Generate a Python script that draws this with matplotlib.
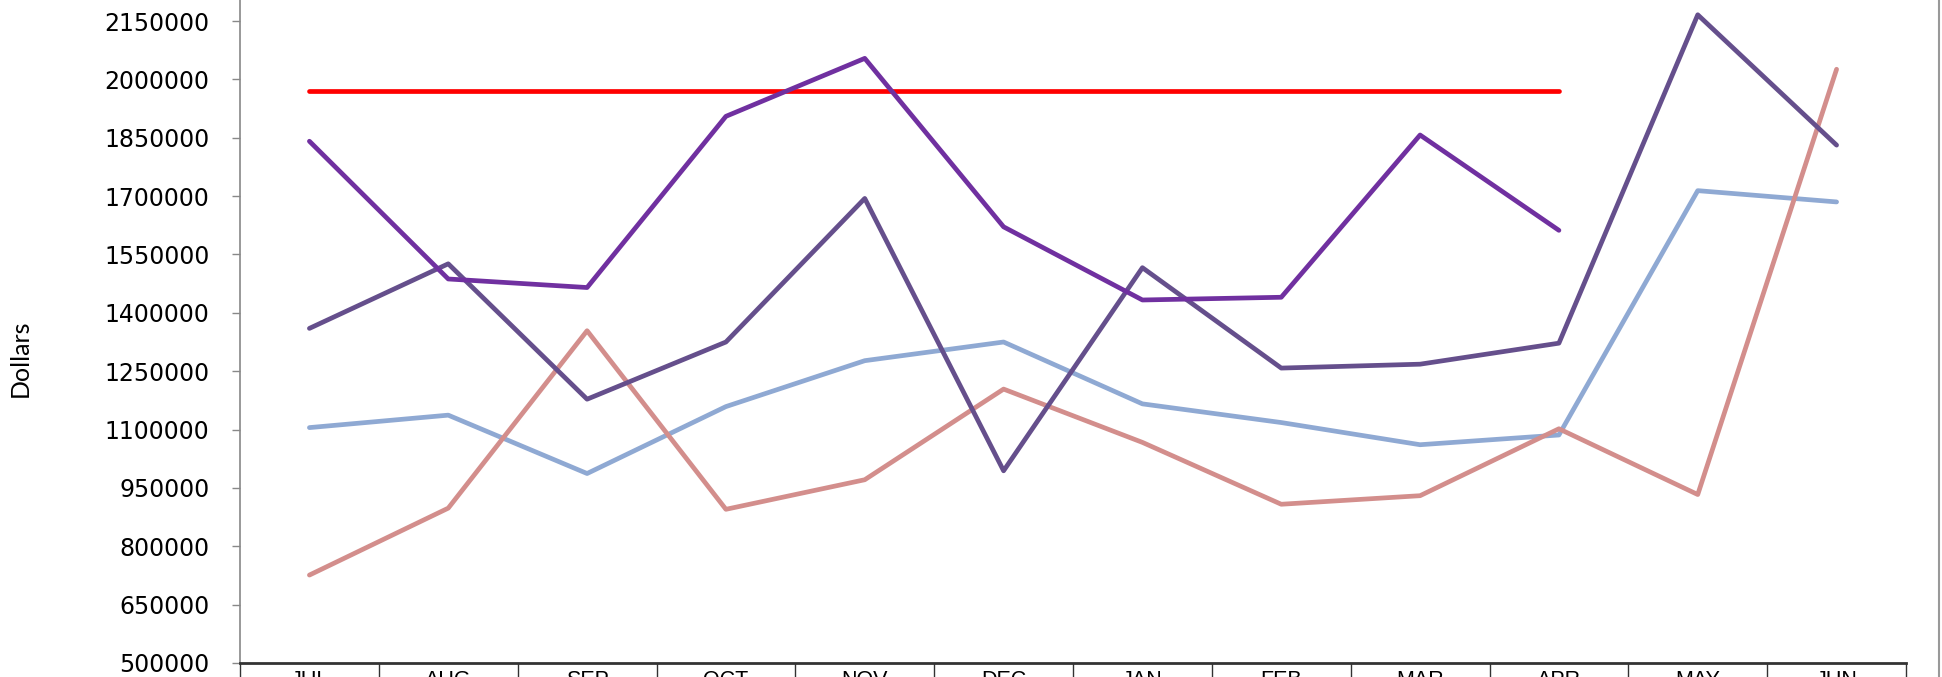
import numpy as np
import matplotlib
matplotlib.use('Agg')
import matplotlib.pyplot as plt
from matplotlib.lines import Line2D

# data
months = ["JUL", "AUG", "SEP", "OCT", "NOV", "DEC", "JAN", "FEB", "MAR", "APR", "MAY", "JUN"]
target = [1971000] * 10
purple = [1841000, 1487000, 1465000, 1905000, 2054000, 1621000, 1433000, 1440000, 1857000, 1612000]
dark_purple = [1360000, 1526000, 1178000, 1325000, 1694000, 994000, 1516000, 1258000, 1268000, 1322000, 2166000, 1831000]
light_blue = [1105000, 1137000, 987000, 1159000, 1277000, 1325000, 1166000, 1118000, 1061000, 1086000, 1714000, 1685000]
pink = [726000, 898000, 1354000, 895000, 971000, 1204000, 1067000, 908000, 930000, 1102000, 933000, 2026000]
yticks = np.arange(500000, 2150001, 150000)

fig = plt.figure(figsize=(19.42, 6.77), dpi=100)
ax = fig.add_axes([240 / 1942, 14 / 677, 1666 / 1942, 663 / 677])

x = np.arange(len(months))
lw = 3.4
ax.plot(x[:len(target)], target, color="#FF0000", lw=lw, solid_capstyle="round")
ax.plot(x, light_blue, color="#8FA9D3", lw=lw, solid_capstyle="round")
ax.plot(x, pink, color="#D38E8C", lw=lw, solid_capstyle="round")
ax.plot(x, dark_purple, color="#654F8C", lw=lw, solid_capstyle="round")
ax.plot(x[:len(purple)], purple, color="#7030A0", lw=lw, solid_capstyle="round")

ax.set_xlim(-0.5, len(months) - 0.5)
ax.set_ylim(500000, 2204000)

ax.set_yticks(yticks)
ax.set_yticklabels([str(v) for v in yticks])
ax.tick_params(axis="y", direction="out", length=6, width=1, color="#888888",
               pad=16, labelsize=17)
for t in ax.get_yticklabels():
    t.set_fontfamily("DejaVu Sans")

# category dividers as major ticks, labels on minor ticks
ax.set_xticks(np.arange(-0.5, len(months), 1.0))
ax.set_xticklabels([])
ax.tick_params(axis="x", which="major", direction="out", length=30, width=1, color="#333333")
ax.set_xticks(x, minor=True)
ax.set_xticklabels(months, minor=True)
ax.tick_params(axis="x", which="minor", length=0, pad=5, labelsize=15.5)
for t in ax.get_xticklabels(minor=True):
    t.set_fontfamily("Liberation Sans")

ax.set_ylabel("Dollars", fontsize=18, family="Lato")
ax.yaxis.set_label_coords(-0.125, 0.459)

for s in ["top", "right"]:
    ax.spines[s].set_visible(False)
ax.spines["left"].set_color("#888888")
ax.spines["left"].set_linewidth(1.2)
ax.spines["bottom"].set_color("#333333")
ax.spines["bottom"].set_linewidth(2)

# chart area border on the right
fig.add_artist(Line2D([1939 / 1942, 1939 / 1942], [0, 1], color="#999999", lw=1.5))

fig.savefig("out.png", dpi=100)
